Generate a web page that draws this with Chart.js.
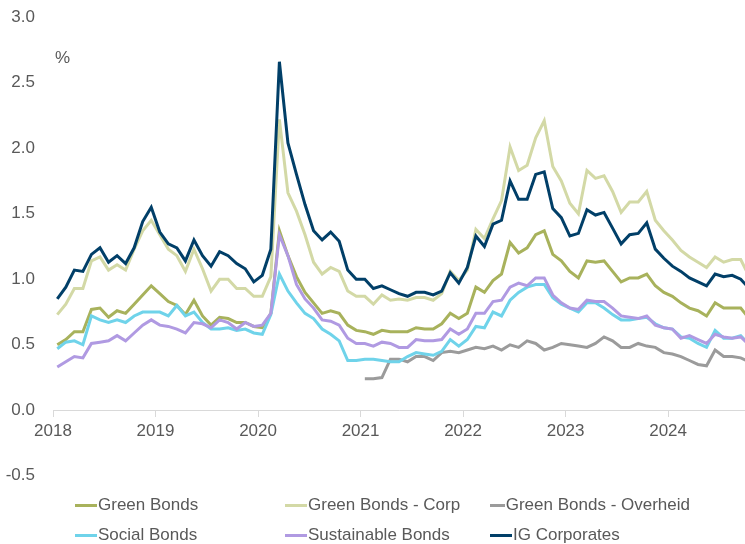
<!DOCTYPE html>
<html>
<head>
<meta charset="utf-8">
<script src="https://cdn.jsdelivr.net/npm/chart.js@4.4.1/dist/chart.umd.min.js"></script>
<style>
    html, body { margin: 0; padding: 0; background: #fff; }
    #wrap { position: relative; width: 745px; height: 544px; overflow: hidden; }
    #chartBox { position: absolute; left: 0; top: -11px; width: 745px; height: 515px; }
    #legend {
        position: absolute; left: 75px; top: 490px;
        display: grid; grid-template-columns: 210px 205px 200px;
        font: 17px "Liberation Sans", Arial, sans-serif; color: #595959;
    }
    .item { display: flex; align-items: center; height: 30px; white-space: nowrap; }
    .swatch { width: 22px; height: 3px; margin-right: 1px; }
</style>
</head>
<body>
<div id="wrap">
    <div id="chartBox"><canvas id="spreadChart"></canvas></div>
    <div id="legend"></div>
</div>
<script>
// monthly data, Jan 2018 - Oct 2024
const startYear = 2018;
const yearTicks = [2018, 2019, 2020, 2021, 2022, 2023, 2024];

const seriesNames = ['Green Bonds', 'Green Bonds - Corp', 'Green Bonds - Overheid',
                     'Social Bonds', 'Sustainable Bonds', 'IG Corporates'];
const seriesColors = ['#a8b25c', '#d3d9a6', '#9b9b9b', '#6fd3ea', '#b09ae2', '#013f68'];

const greenBonds = [
    0.50, 0.54, 0.60, 0.60, 0.77, 0.78, 0.71, 0.76, 0.74, 0.81, 0.88, 0.95,
    0.89, 0.83, 0.80, 0.73, 0.84, 0.72, 0.65, 0.71, 0.70, 0.67, 0.67, 0.64,
    0.63, 0.74, 1.37, 1.18, 1.02, 0.90, 0.82, 0.74, 0.76, 0.74, 0.65, 0.61,
    0.60, 0.58, 0.61, 0.60, 0.60, 0.60, 0.63, 0.62, 0.62, 0.66, 0.74, 0.70,
    0.74, 0.94, 0.90, 0.99, 1.04, 1.28, 1.20, 1.24, 1.34, 1.37, 1.19, 1.14,
    1.06, 1.01, 1.14, 1.13, 1.14, 1.06, 0.98, 1.01, 1.01, 1.04, 0.95, 0.90,
    0.87, 0.82, 0.78, 0.76, 0.72, 0.82, 0.78, 0.78, 0.78, 0.70
];
const greenCorp = [
    0.73, 0.81, 0.93, 0.93, 1.14, 1.17, 1.07, 1.11, 1.07, 1.23, 1.37, 1.45,
    1.34, 1.23, 1.18, 1.06, 1.23, 1.08, 0.91, 1.00, 1.00, 0.93, 0.93, 0.87,
    0.87, 1.02, 2.22, 1.66, 1.52, 1.34, 1.13, 1.04, 1.09, 1.06, 0.91, 0.87,
    0.87, 0.81, 0.88, 0.84, 0.85, 0.84, 0.86, 0.86, 0.84, 0.89, 1.06, 0.99,
    1.07, 1.38, 1.31, 1.46, 1.60, 2.01, 1.83, 1.87, 2.08, 2.21, 1.86, 1.75,
    1.58, 1.50, 1.83, 1.77, 1.79, 1.67, 1.51, 1.59, 1.59, 1.67, 1.45, 1.37,
    1.30, 1.22, 1.17, 1.13, 1.09, 1.17, 1.13, 1.15, 1.15, 1.02
];
const greenGov = [
    null, null, null, null, null, null, null, null, null, null, null, null,
    null, null, null, null, null, null, null, null, null, null, null, null,
    null, null, null, null, null, null, null, null, null, null, null, null,
    0.24, 0.24, 0.25, 0.39, 0.39, 0.37, 0.41, 0.41, 0.38, 0.44, 0.45, 0.44,
    0.46, 0.48, 0.47, 0.49, 0.46, 0.50, 0.48, 0.53, 0.51, 0.46, 0.48, 0.51,
    0.50, 0.49, 0.48, 0.51, 0.56, 0.53, 0.48, 0.48, 0.51, 0.49, 0.48, 0.44,
    0.43, 0.41, 0.38, 0.35, 0.34, 0.46, 0.41, 0.41, 0.40, 0.37
];
const socialBonds = [
    0.47, 0.52, 0.53, 0.50, 0.72, 0.69, 0.67, 0.69, 0.67, 0.72, 0.75, 0.75,
    0.75, 0.72, 0.80, 0.72, 0.75, 0.67, 0.62, 0.62, 0.63, 0.61, 0.62, 0.59,
    0.58, 0.73, 1.04, 0.91, 0.82, 0.74, 0.70, 0.62, 0.58, 0.53, 0.38, 0.38,
    0.39, 0.39, 0.38, 0.37, 0.37, 0.41, 0.44, 0.43, 0.42, 0.45, 0.54, 0.49,
    0.54, 0.64, 0.63, 0.75, 0.72, 0.84, 0.90, 0.94, 0.96, 0.96, 0.86, 0.81,
    0.78, 0.75, 0.82, 0.82, 0.78, 0.73, 0.69, 0.69, 0.70, 0.71, 0.66, 0.63,
    0.62, 0.56, 0.55, 0.51, 0.48, 0.61, 0.55, 0.55, 0.57, 0.50
];
const sustainableBonds = [
    0.33, 0.37, 0.41, 0.40, 0.51, 0.52, 0.53, 0.57, 0.53, 0.59, 0.65, 0.69,
    0.65, 0.64, 0.62, 0.59, 0.67, 0.66, 0.63, 0.69, 0.67, 0.62, 0.67, 0.64,
    0.65, 0.74, 1.34, 1.18, 0.96, 0.85, 0.78, 0.69, 0.68, 0.65, 0.55, 0.51,
    0.51, 0.49, 0.52, 0.51, 0.48, 0.48, 0.54, 0.53, 0.53, 0.54, 0.62, 0.58,
    0.62, 0.74, 0.74, 0.83, 0.84, 0.94, 0.97, 0.95, 1.01, 1.01, 0.88, 0.82,
    0.78, 0.77, 0.84, 0.83, 0.83, 0.78, 0.72, 0.71, 0.70, 0.72, 0.65, 0.63,
    0.62, 0.55, 0.57, 0.54, 0.51, 0.58, 0.56, 0.55, 0.56, 0.50
];
const igCorporates = [
    0.85, 0.94, 1.07, 1.06, 1.19, 1.24, 1.13, 1.18, 1.12, 1.24, 1.44, 1.55,
    1.36, 1.27, 1.24, 1.14, 1.30, 1.18, 1.10, 1.21, 1.18, 1.12, 1.08, 0.98,
    1.03, 1.23, 2.66, 2.04, 1.80, 1.57, 1.37, 1.30, 1.36, 1.29, 1.07, 1.00,
    1.00, 0.93, 0.95, 0.92, 0.89, 0.87, 0.90, 0.90, 0.88, 0.91, 1.05, 0.97,
    1.09, 1.33, 1.25, 1.42, 1.45, 1.75, 1.61, 1.61, 1.80, 1.82, 1.54, 1.47,
    1.33, 1.35, 1.53, 1.49, 1.51, 1.39, 1.27, 1.34, 1.35, 1.43, 1.23, 1.16,
    1.10, 1.06, 1.01, 0.98, 0.95, 1.04, 1.02, 1.03, 1.00, 0.93
];

const seriesData = [greenBonds, greenCorp, greenGov, socialBonds, sustainableBonds, igCorporates];

const textColor = '#595959';
const fontFamily = '"Liberation Sans", Arial, sans-serif';

// each value sits in the middle of its month
function toPoints(values) {
    return values.map((v, i) => ({ x: startYear + (i + 0.5) / 12, y: v }));
}

const percentLabel = {
    id: 'percentLabel',
    afterDraw(chart) {
        const { ctx, chartArea, scales } = chart;
        ctx.save();
        ctx.font = '17px ' + fontFamily;
        ctx.fillStyle = textColor;
        ctx.textAlign = 'left';
        ctx.textBaseline = 'middle';
        ctx.fillText('%', chartArea.left + 2, scales.y.getPixelForValue(2.69));
        ctx.restore();
    }
};

const datasets = seriesNames.map((name, i) => ({
    label: name,
    data: toPoints(seriesData[i]),
    borderColor: seriesColors[i],
    backgroundColor: seriesColors[i],
    borderWidth: 3,
    pointRadius: 0,
    tension: 0,
    order: seriesNames.length - i
}));

const ctx = document.getElementById('spreadChart').getContext('2d');
const spreadChart = new Chart(ctx, {
    type: 'line',
    data: { datasets: datasets },
    plugins: [percentLabel],
    options: {
        responsive: true,
        maintainAspectRatio: false,
        animation: false,
        layout: { padding: 0 },
        plugins: {
            legend: { display: false },
            tooltip: { enabled: false }
        },
        scales: {
            x: {
                type: 'linear',
                min: 2018,
                max: 2024.75,
                position: { y: 0 },
                grid: { drawOnChartArea: false, drawTicks: true, tickLength: 6, color: '#d9d9d9' },
                border: { display: true, color: '#d9d9d9', width: 1 },
                afterBuildTicks: scale => {
                    scale.ticks = yearTicks.map(v => ({ value: v }));
                },
                ticks: {
                    padding: 5,
                    color: textColor,
                    font: { family: fontFamily, size: 17 },
                    maxRotation: 0,
                    callback: v => String(v)
                }
            },
            y: {
                min: -0.5,
                max: 3,
                grid: { display: false, drawTicks: false },
                border: { display: false },
                afterFit: scale => { scale.width = 53; },
                ticks: {
                    stepSize: 0.5,
                    padding: 18,
                    color: textColor,
                    font: { family: fontFamily, size: 17 },
                    callback: v => v.toFixed(1)
                }
            }
        }
    }
});

// legend in three fixed columns, built from the chart's datasets
const legendEl = document.getElementById('legend');
spreadChart.data.datasets.forEach(ds => {
    const item = document.createElement('div');
    item.className = 'item';
    const sw = document.createElement('span');
    sw.className = 'swatch';
    sw.style.background = ds.borderColor;
    const txt = document.createElement('span');
    txt.textContent = ds.label;
    item.appendChild(sw);
    item.appendChild(txt);
    legendEl.appendChild(item);
});
</script>
</body>
</html>
